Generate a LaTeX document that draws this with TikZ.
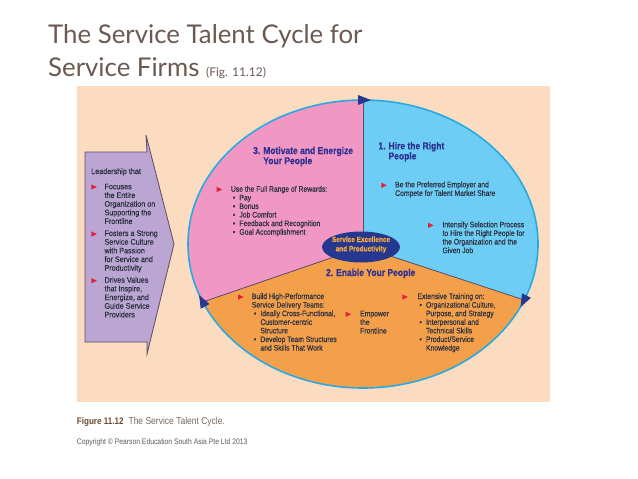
\documentclass[tikz,border=0pt]{standalone}
\usepackage{fontspec}
\usetikzlibrary{shapes.geometric}
\setmainfont{Liberation Sans}
\newfontfamily\condfont[FakeStretch=0.85, RawFeature={embolden=0.4}]{Liberation Sans}
\newfontfamily\purpfont[FakeStretch=0.9, RawFeature={embolden=0.4}]{Liberation Sans}
\newfontfamily\capfont[FakeStretch=0.85]{Liberation Sans}
\newfontfamily\titlefont{Lato}
\definecolor{peachC}{HTML}{FCDCC0}
\definecolor{pinkC}{HTML}{F097C3}
\definecolor{blueC}{HTML}{6DCDF5}
\definecolor{orangeC}{HTML}{F4A04B}
\definecolor{purpC}{HTML}{BAA5D3}
\definecolor{navyC}{HTML}{26378F}
\definecolor{rimC}{HTML}{27AAE1}
\definecolor{lineC}{HTML}{5B4B5E}
\definecolor{bodyC}{HTML}{2C3140}
\definecolor{headC}{HTML}{2E3192}
\definecolor{redC}{HTML}{E31F3D}
\definecolor{coreTxt}{HTML}{F7A941}
\definecolor{titleC}{HTML}{6B5A52}
\definecolor{capC}{HTML}{6E4A2E}
\definecolor{capTxt}{HTML}{7A685E}
\definecolor{copyC}{HTML}{5A5A5A}
\newcommand\tlines[1]{\begin{tabular}[t]{@{}l@{}}#1\end{tabular}}
\newcommand\blist[1]{\begin{tabular}[t]{@{}p{8.5pt}@{}l@{}}#1\end{tabular}}
\newcommand\hdtab[1]{\begin{tabular}[t]{@{}l@{\hspace{3pt}}l@{}}#1\end{tabular}}
\newcommand\mybul{\hspace{2pt}\textbullet}
\newcommand\rtri[1]{\fill[redC] (#1) ++(-2.6,-2.6) -- ++(5.5,2.6) -- ++(-5.5,2.6) -- cycle;}
\newcommand\navyarrow[2]{\fill[navyC, shift={(#1)}, rotate=#2] (8,0) -- (-5,5) -- (-5,-5) -- cycle;}
\tikzset{
  body/.style={font=\condfont\fontsize{8}{8.6}\selectfont, text=bodyC, inner sep=0pt, anchor=base west},
  purp/.style={font=\purpfont\fontsize{8}{8.67}\selectfont, text=bodyC, inner sep=0pt, anchor=base west},
  head/.style={font=\condfont\bfseries\fontsize{10}{9.7}\selectfont, text=headC, inner sep=0pt, anchor=base west},
  title/.style={font=\titlefont\fontsize{25.8}{30}\selectfont, text=titleC, inner sep=0pt, anchor=base west},
  divider/.style={draw=lineC, line width=0.8pt},
  rim/.style={draw=rimC, line width=1.6pt},
}
\begin{document}
\begin{tikzpicture}[x=1pt,y=-1pt]
\useasboundingbox (0,0) rectangle (638,479);
\fill[white] (0,0) rectangle (638,479);

% title
\node[title] (t1) at (48,43.3) {The Service Talent Cycle for};
\node[title] (t2) at (48,76.7) {Service Firms \fontsize{12}{13}\selectfont(Fig. 11.12)};

% background panel
\fill[peachC] (77,86) rectangle (550,402);

% big ellipse sectors
\coordinate (ec) at (363,244);
\coordinate (c0) at (363,247);
\coordinate (top) at (363,100);
\coordinate (lp) at (202.8,302);
\coordinate (rp) at (524.2,300);
\begin{scope}
  \clip (ec) ellipse [x radius=175pt, y radius=144pt];
  \fill[orangeC] (180,90) rectangle (545,400);
  \fill[pinkC] (c0) -- (363,60) -- (150,60) -- (150,320.7) -- cycle;
  \fill[blueC] (c0) -- (363,60) -- (580,60) -- (580,318.4) -- cycle;
\end{scope}
\draw[divider] (c0) -- (top);
\draw[divider] (c0) -- (lp);
\draw[divider] (c0) -- (rp);
\draw[rim] (ec) ellipse [x radius=175pt, y radius=144pt];
\navyarrow{top}{0}
\navyarrow{rp}{242.8}
\navyarrow{lp}{118.1}

% core
\node[ellipse, fill=navyC, minimum width=78pt, minimum height=31pt, inner sep=0pt] (core) at (361,247) {};
\node[font=\condfont\bfseries\fontsize{7.6}{9.3}\selectfont, text=coreTxt, inner sep=0pt, anchor=base] (coretxt) at (361,242)
  {\begin{tabular}[t]{@{}c@{}}Service Excellence\\and Productivity\end{tabular}};

% purple leadership arrow
\draw[fill=purpC, draw=lineC, line width=0.8pt] (85,152) -- (147,152) -- (146,135) -- (174,244) -- (147,354) -- (147,342) -- (85,342) -- cycle;
\node[purp] (lead) at (91,174) {Leadership that};
\rtri{94,187}
\node[purp] (l1) at (104.3,189.3) {\tlines{Focuses\\the Entire\\Organization on\\Supporting the\\Frontline}};
\rtri{94,234}
\node[purp] (l2) at (104.3,236) {\tlines{Fosters a Strong\\Service Culture\\with Passion\\for Service and\\Productivity}};
\rtri{94,280.7}
\node[purp] (l3) at (104.3,282.7) {\tlines{Drives Values\\that Inspire,\\Energize, and\\Guide Service\\Providers}};

% section 3 (pink)
\node[head] (h3) at (253,154) {\hdtab{3. & Motivate and Energize\\ & Your People}};
\rtri{219.3,189.5}
\node[body] (p1) at (230.7,191.7) {\blist{\multicolumn{2}{@{}l@{}}{Use the Full Range of Rewards:}\\
  \mybul & Pay\\ \mybul & Bonus\\ \mybul & Job Comfort\\ \mybul & Feedback and Recognition\\ \mybul & Goal Accomplishment}};

% section 1 (blue)
\node[head] (h1) at (378.3,149.3) {\hdtab{1. & Hire the Right\\ & People}};
\rtri{384,185.3}
\node[body] (b1) at (395,187.3) {\tlines{Be the Preferred Employer and\\Compete for Talent Market Share}};
\rtri{430.7,225.3}
\node[body] (b2) at (442.3,227.3) {\tlines{Intensify Selection Process\\to Hire the Right People for\\the Organization and the\\Given Job}};

% section 2 (orange)
\node[head, anchor=base] (h2) at (370.7,276) {2.\hspace{3pt}Enable Your People};
\rtri{240.7,297}
\node[body] (o1) at (251.7,299) {\blist{\multicolumn{2}{@{}l@{}}{Build High-Performance}\\
  \multicolumn{2}{@{}l@{}}{Service Delivery Teams:}\\
  \mybul & Ideally Cross-Functional,\\ & Customer-centric\\ & Structure\\
  \mybul & Develop Team Structures\\ & and Skills That Work}};
\rtri{348.3,314.3}
\node[body] (o2) at (360,316.3) {\tlines{Empower\\the\\Frontline}};
\rtri{405,297}
\node[body] (o3) at (417.3,299) {\blist{\multicolumn{2}{@{}l@{}}{Extensive Training on:}\\
  \mybul & Organizational Culture,\\ & Purpose, and Strategy\\
  \mybul & Interpersonal and\\ & Technical Skills\\
  \mybul & Product/Service\\ & Knowledge}};

% caption
\node[font=\capfont\fontsize{10}{12}\selectfont, inner sep=0pt, anchor=base west, text=capTxt] (cap) at (76.7,424.3)
  {{\bfseries\fontsize{9.5}{12}\selectfont\color{capC}Figure 11.12}\hspace{5pt}The Service Talent Cycle.};
\node[font=\capfont\fontsize{8}{10}\selectfont, inner sep=0pt, anchor=base west, text=copyC] (copy) at (76.7,444.3)
  {Copyright © Pearson Education South Asia Pte Ltd 2013};
\end{tikzpicture}
\end{document}
